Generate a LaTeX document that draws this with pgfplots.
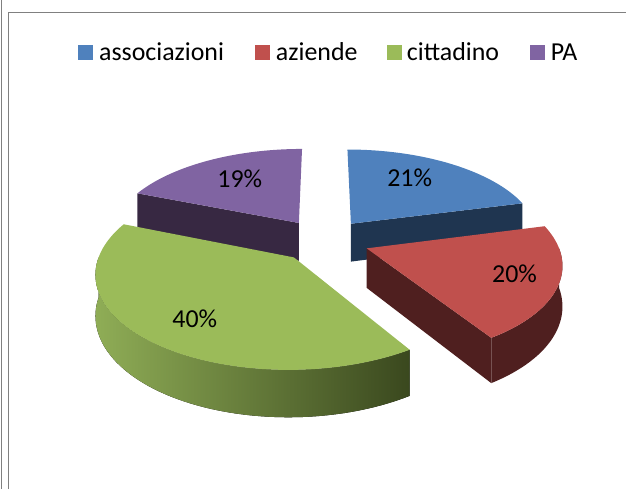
\documentclass[border=0pt]{standalone}
\usepackage{pgfplots}
\pgfplotsset{compat=1.18}
\usepackage{pgfplotstable}
\usepackage{fontspec}
\setmainfont{Carlito}

\definecolor{cA}{HTML}{4F81BD}\definecolor{cAd}{HTML}{1F3550}
\definecolor{cB}{HTML}{C0504D}\definecolor{cBd}{HTML}{4F1F1F}
\definecolor{cC}{HTML}{9BBB59}\definecolor{cCl}{HTML}{8FAD56}\definecolor{cCm}{HTML}{6A8438}\definecolor{cCd}{HTML}{3A481E}
\definecolor{cD}{HTML}{8064A2}\definecolor{cDd}{HTML}{372842}
\definecolor{frameg}{HTML}{808080}

\pgfplotstableread{
label value
associazioni 21
aziende 20
cittadino 40
PA 19
}\piedata

\begin{document}
\begin{tikzpicture}[declare function={
  ps(\Y)=1/(1+0.15*\Y);
  PX(\X,\Y)=324+190*\X*ps(\Y);
  PY(\X,\Y,\z)=249+(90*\Y-39*\z)*ps(\Y);
}]
\pgfplotstablegetelem{0}{value}\of\piedata\let\vA\pgfplotsretval
\pgfplotstablegetelem{1}{value}\of\piedata\let\vB\pgfplotsretval
\pgfplotstablegetelem{2}{value}\of\piedata\let\vC\pgfplotsretval
\pgfplotstablegetelem{3}{value}\of\piedata\let\vD\pgfplotsretval
\pgfmathsetmacro\aA{90}
\pgfmathsetmacro\aB{\aA-3.6*\vA}
\pgfmathsetmacro\aC{\aB-3.6*\vB}
\pgfmathsetmacro\aD{\aC-3.6*\vC}
\pgfmathsetmacro\aE{\aD-3.6*\vD}
\pgfmathsetmacro\oxA{0.24*cos((\aA+\aB)/2)}\pgfmathsetmacro\oyA{0.24*sin((\aA+\aB)/2)}
\pgfmathsetmacro\oxB{0.24*cos((\aB+\aC)/2)}\pgfmathsetmacro\oyB{0.24*sin((\aB+\aC)/2)}
\pgfmathsetmacro\oxC{0.24*cos((\aC+\aD)/2)}\pgfmathsetmacro\oyC{0.24*sin((\aC+\aD)/2)}
\pgfmathsetmacro\oxD{0.24*cos((\aD+\aE)/2)}\pgfmathsetmacro\oyD{0.24*sin((\aD+\aE)/2)}
% apex points (top z=0, bottom z=1)
\pgfmathsetmacro\pxA{PX(\oxA,\oyA)}\pgfmathsetmacro\ptA{PY(\oxA,\oyA,0)}\pgfmathsetmacro\pbA{PY(\oxA,\oyA,1)}
\pgfmathsetmacro\pxB{PX(\oxB,\oyB)}\pgfmathsetmacro\ptB{PY(\oxB,\oyB,0)}\pgfmathsetmacro\pbB{PY(\oxB,\oyB,1)}
\pgfmathsetmacro\pxC{PX(\oxC,\oyC)}\pgfmathsetmacro\ptC{PY(\oxC,\oyC,0)}\pgfmathsetmacro\pbC{PY(\oxC,\oyC,1)}
\pgfmathsetmacro\pxD{PX(\oxD,\oyD)}\pgfmathsetmacro\ptD{PY(\oxD,\oyD,0)}\pgfmathsetmacro\pbD{PY(\oxD,\oyD,1)}
% rim points for visible radial walls
\pgfmathsetmacro\rxD{PX(\oxD+cos(\aD),\oyD+sin(\aD))}\pgfmathsetmacro\rtD{PY(\oxD+cos(\aD),\oyD+sin(\aD),0)}\pgfmathsetmacro\rbD{PY(\oxD+cos(\aD),\oyD+sin(\aD),1)}
\pgfmathsetmacro\rxA{PX(\oxA+cos(\aB),\oyA+sin(\aB))}\pgfmathsetmacro\rtA{PY(\oxA+cos(\aB),\oyA+sin(\aB),0)}\pgfmathsetmacro\rbA{PY(\oxA+cos(\aB),\oyA+sin(\aB),1)}
\pgfmathsetmacro\rxB{PX(\oxB+cos(\aC),\oyB+sin(\aC))}\pgfmathsetmacro\rtB{PY(\oxB+cos(\aC),\oyB+sin(\aC),0)}\pgfmathsetmacro\rbB{PY(\oxB+cos(\aC),\oyB+sin(\aC),1)}
\begin{axis}[
  at={(0,0)}, anchor=south west,
  scale only axis, width=626bp, height=489bp,
  xmin=0, xmax=626, ymin=0, ymax=489,
  hide axis, clip=false,
]
\path (axis cs:0,0) (axis cs:626,489);
% frame
\draw[frameg, line width=1bp] (axis cs:1.5,0) -- (axis cs:1.5,489);
\draw[frameg, line width=1bp] (axis cs:8.5,0) -- (axis cs:8.5,476.5) -- (axis cs:626,476.5);

% ---- PA (purple), back left
\fill[cDd] (axis cs:\pxD,\ptD) -- (axis cs:\rxD,\rtD) -- (axis cs:\rxD,\rbD) -- (axis cs:\pxD,\pbD) -- cycle;
\addplot[fill=cD, draw=none, domain=\aE:\aD, samples=60, variable=\t]
  ({PX(\oxD+cos(\t),\oyD+sin(\t))},{PY(\oxD+cos(\t),\oyD+sin(\t),0)}) -- (axis cs:\pxD,\ptD) -- cycle;

% ---- associazioni (blue), back right
\fill[cAd] (axis cs:\pxA,\ptA) -- (axis cs:\rxA,\rtA) -- (axis cs:\rxA,\rbA) -- (axis cs:\pxA,\pbA) -- cycle;
\addplot[fill=cA, draw=none, domain=\aB:\aA, samples=60, variable=\t]
  ({PX(\oxA+cos(\t),\oyA+sin(\t))},{PY(\oxA+cos(\t),\oyA+sin(\t),0)}) -- (axis cs:\pxA,\ptA) -- cycle;

% ---- aziende (red), right
\fill[cBd] (axis cs:\pxB,\ptB) -- (axis cs:\rxB,\rtB) -- (axis cs:\rxB,\rbB) -- (axis cs:\pxB,\pbB) -- cycle;
\fill[cBd] plot[domain=\aC:0, samples=40, variable=\t] ({PX(\oxB+cos(\t),\oyB+sin(\t))},{PY(\oxB+cos(\t),\oyB+sin(\t),0)})
  -- plot[domain=0:\aC, samples=40, variable=\t] ({PX(\oxB+cos(\t),\oyB+sin(\t))},{PY(\oxB+cos(\t),\oyB+sin(\t),1)}) -- cycle;
\addplot[fill=cB, draw=none, domain=\aC:\aB, samples=60, variable=\t]
  ({PX(\oxB+cos(\t),\oyB+sin(\t))},{PY(\oxB+cos(\t),\oyB+sin(\t),0)}) -- (axis cs:\pxB,\ptB) -- cycle;

% ---- cittadino (green), front left
\fill[left color=cCl, middle color=cCm, right color=cCd] plot[domain=-180:\aC, samples=60, variable=\t] ({PX(\oxC+cos(\t),\oyC+sin(\t))},{PY(\oxC+cos(\t),\oyC+sin(\t),0)})
  -- plot[domain=\aC:-180, samples=60, variable=\t] ({PX(\oxC+cos(\t),\oyC+sin(\t))},{PY(\oxC+cos(\t),\oyC+sin(\t),1)}) -- cycle;
\addplot[fill=cC, draw=none, domain=\aD:\aC, samples=80, variable=\t]
  ({PX(\oxC+cos(\t),\oyC+sin(\t))},{PY(\oxC+cos(\t),\oyC+sin(\t),0)}) -- (axis cs:\pxC,\ptC) -- cycle;

% ---- data labels
\begin{scope}[every node/.style={anchor=base, inner sep=0pt, font=\fontsize{26}{30}\selectfont}]
\node at (axis cs:410,303) {21\%};
\node at (axis cs:515,207) {20\%};
\node at (axis cs:195,162) {40\%};
\node at (axis cs:240,302) {19\%};
\end{scope}

% ---- legend
\begin{scope}[every node/.style={anchor=base west, inner sep=0pt, font=\fontsize{26}{30}\selectfont}]
\fill[cA] (axis cs:78,429) rectangle (axis cs:93,444);
\node at (axis cs:99,429) {associazioni};
\fill[cB] (axis cs:255,429) rectangle (axis cs:270,444);
\node at (axis cs:276,429) {aziende};
\fill[cC] (axis cs:387,429) rectangle (axis cs:402,444);
\node at (axis cs:407,429) {cittadino};
\fill[cD] (axis cs:530,429) rectangle (axis cs:545,444);
\node at (axis cs:551,429) {PA};
\end{scope}
\end{axis}
\end{tikzpicture}
\end{document}
